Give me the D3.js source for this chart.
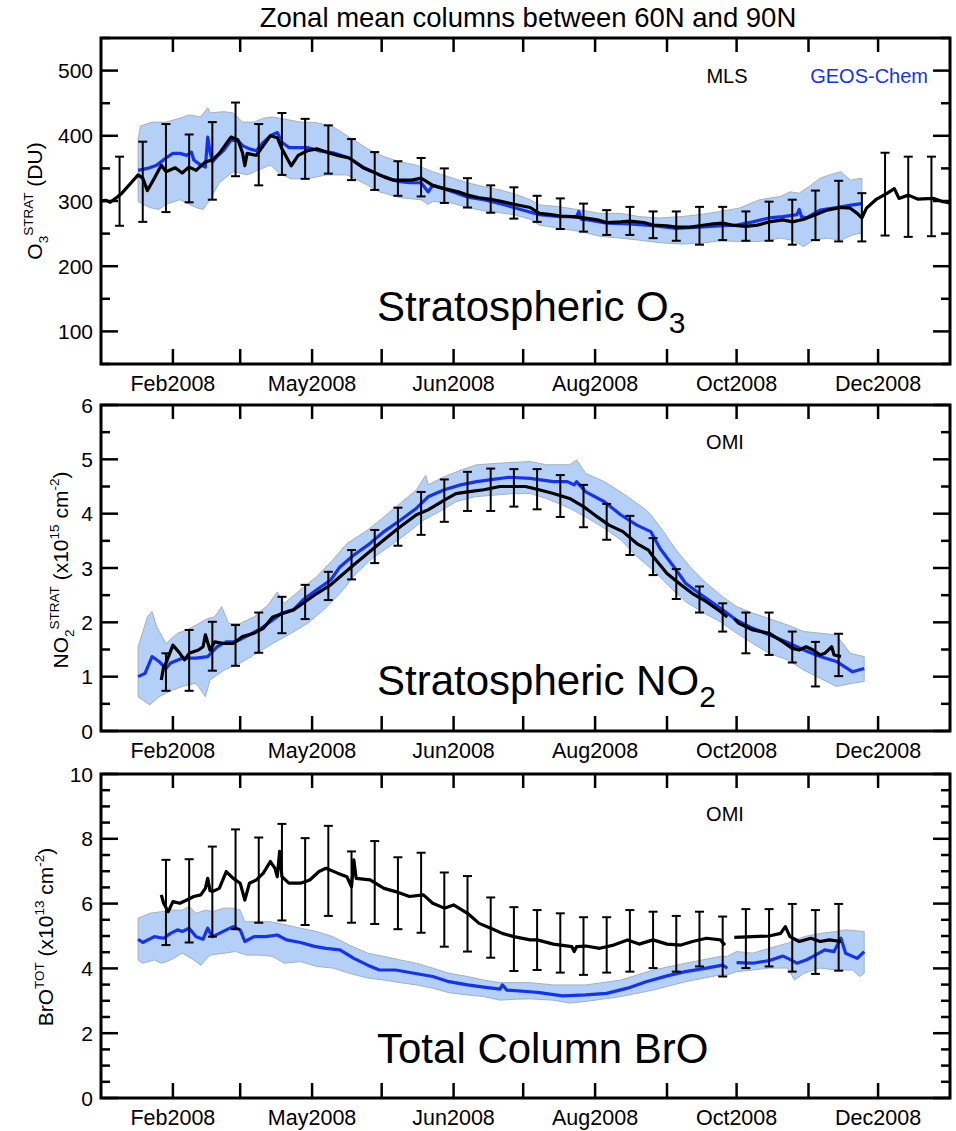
<!DOCTYPE html>
<html>
<head>
<meta charset="utf-8">
<script src="https://cdn.jsdelivr.net/npm/d3@7"></script>
<style>
  html, body { margin: 0; padding: 0; background: #fff; }
  svg { display: block; font-family: "Liberation Sans", Arial, Helvetica, sans-serif; }
</style>
</head>
<body>
<svg id="chart" width="956" height="1131"></svg>
<script>
// ---------------------------------------------------------------------------
// Data: day of year 2008 (0 = 1 Jan) and zonal-mean column values, 60N-90N
// ---------------------------------------------------------------------------

// x-axis labels (month index of the tick they sit under, and the text shown)
const xLabelMonths = [1, 3, 5, 7, 9, 11];
const xLabelText = ["Feb2008", "May2008", "Jun2008", "Aug2008", "Oct2008", "Dec2008"];

// --- Stratospheric O3 (DU) ---
const o3Mls = [[0,300],[2,301],[4,298],[7,306],[9,312],[13,328],[16,340],[18,335],[20,316],[23,335],[26,355],[28,345],[32,351],[35,343],[38,352],[41,347],[45,360],[48,363],[51,373],[56,398],[59,394],[61,374],[62,354],[63,373],[67,370],[70,385],[73,400],[76,397],[78,380],[82,354],[85,370],[89,377],[93,380],[98,374],[102,370],[107,366],[113,351],[117,345],[122,337],[126,332],[130,332],[134,332],[138,335],[143,324],[148,319],[154,314],[158,309],[163,305],[169,302],[173,299],[178,295],[185,290],[189,281],[194,279],[198,277],[203,276],[208,274],[214,271],[218,267],[224,268],[228,269],[234,267],[238,263],[244,262],[248,260],[254,260],[258,262],[264,265],[268,266],[272,263],[278,261],[283,263],[288,268],[294,271],[298,268],[303,272],[308,279],[313,286],[319,290],[323,289],[326,281],[328,274],[330,289],[334,302],[339,312],[342,319],[344,304],[348,309],[352,303],[359,304],[363,299],[366,297]];
const o3Geos = [[16,347],[20,350],[24,355],[28,366],[31,373],[34,373],[37,370],[39,375],[40,363],[43,355],[45,352],[46,398],[47,375],[48,360],[50,368],[53,378],[56,393],[59,393],[61,385],[64,380],[67,377],[70,390],[73,400],[76,405],[78,390],[81,382],[89,382],[94,377],[100,374],[107,366],[113,352],[120,340],[128,330],[133,328],[138,328],[141,314],[143,324],[150,316],[158,306],[165,302],[173,295],[181,287],[189,279],[198,276],[205,276],[206,284],[207,272],[210,271],[218,266],[228,265],[238,262],[248,258],[258,260],[268,262],[274,263],[281,268],[288,274],[294,276],[300,279],[301,287],[302,276],[304,274],[310,286],[317,290],[324,294],[328,296]];
const o3BandHi = [[16,395],[17,415],[22,421],[28,421],[34,427],[38,432],[43,429],[46,443],[47,435],[53,437],[57,435],[61,421],[66,421],[70,427],[74,429],[80,425],[86,421],[93,420],[100,414],[107,398],[115,380],[122,368],[129,360],[136,355],[143,345],[150,337],[158,328],[165,322],[172,317],[179,310],[185,302],[189,294],[198,291],[207,286],[215,281],[224,281],[232,276],[241,274],[250,276],[258,279],[267,284],[275,289],[284,302],[293,307],[297,314],[301,312],[306,324],[310,335],[314,340],[319,345],[323,332],[328,335]];
const o3BandLo = [[16,299],[21,290],[25,287],[28,295],[34,302],[38,295],[41,290],[44,287],[47,302],[51,328],[57,345],[63,340],[68,348],[73,355],[77,342],[82,334],[89,334],[97,340],[106,340],[113,328],[120,314],[129,305],[138,302],[141,295],[143,299],[150,298],[158,290],[165,285],[172,282],[178,279],[185,272],[189,263],[198,258],[207,253],[215,246],[224,243],[232,240],[241,236],[250,234],[258,235],[267,239],[275,238],[284,238],[293,243],[298,240],[303,230],[307,240],[313,243],[319,240],[324,248],[328,251]];
const o3Err = [[8,262,368],[18,268,391],[28,283,418],[38,298,402],[48,302,421],[58,338,451],[68,324,418],[78,340,435],[88,334,426],[98,342,416],[108,332,395],[118,317,375],[128,308,361],[138,307,366],[148,297,350],[158,290,335],[168,282,324],[178,273,321],[188,268,308],[198,257,304],[208,253,296],[218,248,286],[228,248,291],[238,243,284],[248,239,284],[258,233,291],[268,240,291],[278,239,284],[288,239,299],[298,233,302],[308,240,316],[318,238,331],[328,238,312],[338,247,374],[348,245,368],[358,246,368]];

// --- Stratospheric NO2 (x10^15 cm^-2) ---
const no2Omi = [[26,0.94],[27,1.18],[28,1.25],[31,1.58],[34,1.43],[36,1.31],[38,1.43],[42,1.49],[44,1.55],[45,1.77],[47,1.49],[49,1.64],[53,1.61],[57,1.61],[61,1.74],[66,1.80],[70,1.89],[74,2.10],[79,2.17],[83,2.23],[88,2.38],[93,2.53],[99,2.69],[103,2.84],[109,3.06],[115,3.27],[122,3.52],[129,3.76],[136,3.98],[141,4.07],[148,4.25],[153,4.37],[158,4.40],[165,4.44],[172,4.50],[179,4.50],[183,4.50],[188,4.45],[195,4.37],[202,4.28],[208,4.13],[214,3.94],[219,3.79],[225,3.67],[231,3.45],[236,3.33],[238,3.21],[244,2.90],[250,2.69],[255,2.53],[261,2.38],[267,2.20],[270,2.10],null,[273,2.07],[275,1.98],[281,1.86],[288,1.80],[294,1.64],[298,1.52],[301,1.49],[304,1.55],[307,1.49],[310,1.40],[312,1.43],[315,1.55],[316,1.40],[319,1.37]];
const no2Geos = [[16,1.00],[19,1.06],[22,1.37],[25,1.28],[28,1.15],[30,1.25],[35,1.34],[41,1.34],[46,1.37],[50,1.55],[54,1.64],[58,1.64],[64,1.77],[69,1.89],[73,2.01],[78,2.17],[83,2.23],[87,2.41],[93,2.60],[99,2.78],[103,3.02],[109,3.24],[115,3.42],[122,3.67],[129,3.88],[136,4.10],[141,4.31],[148,4.44],[155,4.53],[162,4.59],[169,4.63],[176,4.67],[185,4.65],[188,4.63],[195,4.59],[201,4.59],[204,4.53],[205,4.59],[209,4.40],[217,4.22],[224,3.98],[231,3.79],[237,3.67],[241,3.36],[247,3.02],[252,2.72],[258,2.53],[264,2.35],[269,2.20],[274,2.04],[281,1.89],[288,1.77],[296,1.63],[303,1.49],[310,1.37],[317,1.28],[324,1.09],[329,1.15]];
const no2BandHi = [[16,1.55],[20,2.10],[22,2.20],[24,1.92],[28,1.61],[33,1.80],[37,1.86],[41,1.95],[46,2.07],[49,2.10],[52,2.29],[55,1.98],[60,1.98],[66,2.10],[72,2.32],[76,2.56],[79,2.35],[86,2.60],[93,2.84],[100,3.15],[106,3.45],[115,3.70],[122,3.94],[129,4.19],[136,4.44],[140,4.71],[141,4.53],[148,4.68],[155,4.80],[162,4.90],[172,4.93],[185,4.96],[192,4.90],[202,4.90],[205,4.99],[209,4.74],[217,4.59],[224,4.40],[231,4.19],[235,4.07],[237,3.98],[242,3.70],[248,3.33],[254,3.02],[261,2.72],[268,2.47],[274,2.29],[281,2.17],[288,2.07],[296,1.95],[303,1.83],[310,1.80],[317,1.77],[323,1.43],[329,1.37]];
const no2BandLo = [[16,0.63],[21,0.48],[25,0.63],[29,0.72],[35,0.82],[41,0.88],[45,0.63],[47,0.94],[53,1.12],[60,1.25],[67,1.43],[74,1.61],[82,1.80],[89,1.98],[96,2.23],[103,2.53],[110,2.90],[117,3.18],[125,3.42],[132,3.64],[139,3.88],[146,4.04],[153,4.22],[161,4.31],[169,4.34],[178,4.37],[185,4.37],[192,4.28],[202,4.10],[209,3.94],[217,3.73],[224,3.52],[231,3.21],[238,2.96],[245,2.66],[252,2.38],[260,2.17],[267,2.01],[274,1.80],[281,1.61],[288,1.43],[296,1.31],[303,1.12],[310,0.97],[317,0.82],[324,0.88],[329,0.91]];
const no2Err = [[28,0.74,1.43],[38,0.74,1.86],[48,1.11,2.01],[58,1.20,1.95],[68,1.44,2.18],[78,1.80,2.47],[88,2.06,2.69],[98,2.41,2.93],[108,2.79,3.33],[118,3.09,3.70],[128,3.41,4.11],[138,3.61,4.40],[148,3.85,4.63],[158,4.05,4.77],[168,4.05,4.83],[178,4.13,4.82],[188,4.08,4.82],[198,3.94,4.71],[208,3.75,4.53],[218,3.52,4.18],[228,3.24,3.96],[238,2.87,3.55],[248,2.43,2.98],[258,2.18,2.66],[268,1.83,2.35],[278,1.43,2.18],[288,1.40,2.18],[298,1.26,1.83],[308,0.82,1.64],[318,1.01,1.79]];

// --- Total column BrO (x10^13 cm^-2) ---
const broOmi = [[26,6.27],[27,6.01],[29,5.75],[31,6.06],[34,6.01],[37,6.11],[40,6.22],[43,6.27],[45,6.47],[46,6.78],[47,6.40],[48,6.37],[51,6.47],[54,6.99],[57,6.78],[60,6.63],[62,6.11],[64,6.63],[67,6.73],[70,6.94],[73,7.30],[75,7.09],[76,6.83],[77,7.61],[78,6.83],[81,6.63],[86,6.63],[90,6.73],[94,6.99],[97,7.09],[102,6.94],[106,6.83],[108,6.52],[109,7.35],[110,6.78],[116,6.73],[122,6.47],[127,6.37],[133,6.22],[139,6.27],[143,6.01],[148,5.86],[152,5.96],[158,5.70],[163,5.39],[168,5.24],[173,5.08],[178,4.98],[185,4.88],[188,4.88],[195,4.75],[203,4.67],[204,4.52],[205,4.67],[209,4.69],[215,4.62],[221,4.72],[227,4.88],[232,4.75],[238,4.88],[244,4.75],[250,4.72],[255,4.83],[261,4.93],[267,4.88],[269,4.72],null,[273,4.96],[281,4.98],[288,5.00],[293,5.08],[295,5.29],[297,4.98],[301,4.83],[306,4.93],[310,4.83],[314,4.88],[319,4.83]];
const broGeos = [[16,4.90],[18,4.80],[23,4.98],[27,4.93],[30,5.08],[33,5.19],[35,5.14],[38,5.24],[41,4.98],[44,4.90],[46,5.24],[48,4.98],[51,5.08],[54,5.19],[57,5.29],[60,5.19],[62,4.83],[66,4.98],[71,4.98],[76,5.03],[80,4.88],[86,4.80],[92,4.68],[97,4.62],[103,4.57],[109,4.31],[115,4.10],[120,3.95],[127,3.95],[135,3.85],[143,3.75],[150,3.59],[158,3.49],[165,3.42],[172,3.36],[173,3.49],[175,3.33],[185,3.28],[189,3.25],[199,3.15],[209,3.18],[218,3.23],[227,3.39],[235,3.59],[244,3.77],[252,3.90],[261,4.01],[268,4.10],[270,4.01],null,[274,4.18],[281,4.16],[288,4.24],[294,4.38],[297,4.28],[300,4.16],[304,4.26],[307,4.37],[312,4.57],[316,4.52],[319,4.93],[321,4.47],[326,4.31],[329,4.52]];
const broBandHi = [[16,5.55],[21,5.70],[26,5.75],[30,5.80],[35,5.80],[38,5.91],[41,5.70],[45,5.80],[48,5.75],[53,5.86],[57,5.86],[60,5.80],[62,5.44],[67,5.44],[73,5.44],[80,5.34],[86,5.24],[93,5.14],[100,4.98],[107,4.72],[115,4.47],[122,4.37],[129,4.26],[136,4.16],[143,4.01],[150,3.85],[158,3.75],[165,3.64],[172,3.56],[179,3.56],[185,3.56],[195,3.49],[209,3.49],[224,3.64],[238,3.95],[252,4.16],[267,4.37],[270,4.37],[274,4.52],[281,4.47],[288,4.62],[296,4.78],[303,4.98],[310,5.08],[317,5.14],[321,5.19],[329,5.14]];
const broBandLo = [[16,4.26],[18,4.16],[23,4.26],[26,4.16],[30,4.26],[35,4.47],[40,4.26],[43,4.10],[47,4.41],[53,4.47],[58,4.52],[63,4.41],[69,4.41],[74,4.37],[79,4.16],[86,4.21],[93,4.06],[100,4.01],[107,3.85],[115,3.70],[122,3.64],[129,3.56],[136,3.49],[143,3.39],[150,3.25],[158,3.18],[165,3.13],[172,3.02],[179,3.05],[185,3.06],[195,3.02],[202,2.93],[209,2.98],[224,3.13],[238,3.33],[252,3.59],[267,3.80],[270,3.80],[274,3.90],[281,3.95],[288,4.01],[296,4.01],[299,3.64],[303,3.85],[310,4.01],[317,3.95],[324,3.95],[327,3.75],[329,3.85]];
const broErr = [[28,4.72,7.35],[38,4.80,7.37],[48,4.98,7.76],[58,5.21,8.29],[68,5.41,8.04],[78,5.48,8.46],[88,5.34,8.02],[98,5.62,8.40],[108,5.41,7.61],[118,5.37,7.93],[128,5.21,7.43],[138,5.10,7.57],[148,4.67,6.96],[158,4.52,6.85],[168,4.33,6.19],[178,3.92,5.89],[188,3.95,5.80],[198,3.87,5.70],[208,3.80,5.58],[218,3.87,5.58],[228,3.90,5.80],[238,4.01,5.75],[248,3.90,5.62],[258,4.06,5.75],[268,3.75,5.60],[278,4.01,5.83],[288,4.06,5.83],[298,3.90,5.99],[308,3.83,5.80],[318,3.93,5.99]];

// ---------------------------------------------------------------------------
// Drawing
// ---------------------------------------------------------------------------
const BLUE = "#1432f4";
const BAND = "#b4d0f7";
const BAND_EDGE = "#a2b0c3";
const FONT = "'Liberation Sans', Arial, Helvetica, sans-serif";

const svg = d3.select("#chart");
const X0 = 101, X1 = 950;
const yearStart = new Date(Date.UTC(2008, 0, 1));
const yearEnd = new Date(Date.UTC(2009, 0, 1));
const x = d3.scaleUtc().domain([yearStart, yearEnd]).range([X0, X1]);
const dayDate = d => new Date(Date.UTC(2008, 0, 1) + d * 864e5);
const monthTicks = d3.utcMonth.range(yearStart, yearEnd).slice(1);

// rich text helper: segments of {t, sub, sup} laid out with baseline shifts
function richText(sel, segs, size, subSize) {
  let shift = 0;
  segs.forEach(s => {
    const target = s.sub ? size * 0.28 : s.sup ? -size * 0.42 : 0;
    sel.append("tspan")
      .attr("dy", target - shift)
      .attr("font-size", (s.sub || s.sup) ? subSize : size)
      .text(s.t);
    shift = target;
  });
}

function panel(p) {
  const y = d3.scaleLinear().domain(p.domain).range([p.bottom, p.top]);
  const g = svg.append("g");
  const px = d => x(dayDate(d[0]));

  // model variability band
  const ring = p.bandHi.concat(p.bandLo.slice().reverse());
  g.append("path")
    .attr("d", d3.line().x(px).y(d => y(d[1]))(ring) + "Z")
    .attr("fill", BAND)
    .attr("stroke", BAND_EDGE)
    .attr("stroke-width", 1);

  const line = d3.line().defined(d => d != null).x(px).y(d => y(d[1]));

  // GEOS-Chem
  g.append("path").attr("d", line(p.model))
    .attr("fill", "none").attr("stroke", BLUE).attr("stroke-width", 3.2)
    .attr("stroke-linejoin", "round");

  // observations
  g.append("path").attr("d", line(p.obs))
    .attr("fill", "none").attr("stroke", "#000").attr("stroke-width", 3.2)
    .attr("stroke-linejoin", "round");

  // observation error bars
  const eb = g.append("g").attr("stroke", "#000").attr("stroke-width", 2);
  p.err.forEach(e => {
    const cx = x(dayDate(e[0]));
    const y0 = y(e[1]), y1 = y(e[2]);
    eb.append("line").attr("x1", cx).attr("x2", cx).attr("y1", y0).attr("y2", y1);
    eb.append("line").attr("x1", cx - 4.5).attr("x2", cx + 4.5).attr("y1", y0).attr("y2", y0);
    eb.append("line").attr("x1", cx - 4.5).attr("x2", cx + 4.5).attr("y1", y1).attr("y2", y1);
  });

  // axes frame
  const ax = svg.append("g").attr("stroke", "#000");
  ax.append("rect")
    .attr("x", X0).attr("y", p.top)
    .attr("width", X1 - X0).attr("height", p.bottom - p.top)
    .attr("fill", "none").attr("stroke-width", 3);

  // y ticks (inward on both sides)
  const [lo, hi] = p.domain;
  const minor = d3.range(lo, hi + 1e-9, p.minorStep);
  minor.forEach(v => {
    const isMajor = Math.abs(v / p.majorStep - Math.round(v / p.majorStep)) < 1e-6;
    const len = isMajor ? 17 : 9;
    const yy = y(v);
    ax.append("line").attr("x1", X0).attr("x2", X0 + len).attr("y1", yy).attr("y2", yy).attr("stroke-width", 2.5);
    ax.append("line").attr("x1", X1).attr("x2", X1 - len).attr("y1", yy).attr("y2", yy).attr("stroke-width", 2.5);
    if (isMajor && p.labelFilter(v)) {
      svg.append("text")
        .attr("x", X0 - 8).attr("y", yy + 7.5)
        .attr("text-anchor", "end")
        .attr("font-size", 21).attr("font-family", FONT)
        .text(v);
    }
  });

  // x ticks at each month start
  monthTicks.forEach(m => {
    const xx = x(m);
    ax.append("line").attr("x1", xx).attr("x2", xx).attr("y1", p.bottom).attr("y2", p.bottom - 15).attr("stroke-width", 2.5);
    ax.append("line").attr("x1", xx).attr("x2", xx).attr("y1", p.top).attr("y2", p.top + 14).attr("stroke-width", 2.5);
  });
  xLabelMonths.forEach((mi, i) => {
    svg.append("text")
      .attr("x", x(new Date(Date.UTC(2008, mi, 1))))
      .attr("y", p.bottom + 27)
      .attr("text-anchor", "middle")
      .attr("font-size", 21.5).attr("font-family", FONT)
      .text(xLabelText[i]);
  });

  // y-axis title (rotated)
  const yt = svg.append("text")
    .attr("transform", `translate(${p.yTitleX},${(p.top + p.bottom) / 2 + p.yTitleDy}) rotate(-90)`)
    .attr("text-anchor", "middle")
    .attr("font-family", FONT);
  richText(yt, p.yTitle, 21, 13.5);

  // big panel caption
  const cap = svg.append("text")
    .attr("x", 377).attr("y", p.captionY)
    .attr("font-family", FONT);
  richText(cap, p.caption, 42, 30);

  // instrument labels
  p.legend.forEach(l => {
    svg.append("text")
      .attr("x", l.x).attr("y", p.top + l.dy)
      .attr("text-anchor", l.anchor)
      .attr("font-size", 20).attr("font-family", FONT)
      .attr("fill", l.color)
      .text(l.t);
  });
}

// chart title
svg.append("text")
  .attr("x", 528).attr("y", 27)
  .attr("text-anchor", "middle")
  .attr("font-size", 27.5).attr("font-family", FONT)
  .text("Zonal mean columns between 60N and 90N");

panel({
  top: 38, bottom: 364, domain: [50, 550], majorStep: 100, minorStep: 50,
  labelFilter: v => v >= 100 && v <= 500,
  obs: o3Mls, model: o3Geos, bandHi: o3BandHi, bandLo: o3BandLo, err: o3Err,
  yTitleX: 42, yTitleDy: 0,
  yTitle: [{t: "O"}, {t: "3", sub: true}, {t: "STRAT", sup: true}, {t: " (DU)"}],
  caption: [{t: "Stratospheric O"}, {t: "3", sub: true}], captionY: 321,
  legend: [
    {t: "MLS", x: 727, dy: 45, anchor: "middle", color: "#000"},
    {t: "GEOS-Chem", x: 928, dy: 45, anchor: "end", color: BLUE}
  ]
});

panel({
  top: 405, bottom: 731, domain: [0, 6], majorStep: 1, minorStep: 0.5,
  labelFilter: () => true,
  obs: no2Omi, model: no2Geos, bandHi: no2BandHi, bandLo: no2BandLo, err: no2Err,
  yTitleX: 68, yTitleDy: 2,
  yTitle: [{t: "NO"}, {t: "2", sub: true}, {t: "STRAT", sup: true}, {t: " (x10"}, {t: "15", sup: true}, {t: " cm"}, {t: "-2", sup: true}, {t: ")"}],
  caption: [{t: "Stratospheric NO"}, {t: "2", sub: true}], captionY: 695,
  legend: [{t: "OMI", x: 725, dy: 44, anchor: "middle", color: "#000"}]
});

panel({
  top: 774, bottom: 1098, domain: [0, 10], majorStep: 2, minorStep: 0.5,
  labelFilter: () => true,
  obs: broOmi, model: broGeos, bandHi: broBandHi, bandLo: broBandLo, err: broErr,
  yTitleX: 53, yTitleDy: 1,
  yTitle: [{t: "BrO"}, {t: "TOT", sup: true}, {t: " (x10"}, {t: "13", sup: true}, {t: " cm"}, {t: "-2", sup: true}, {t: ")"}],
  caption: [{t: "Total Column BrO"}], captionY: 1063,
  legend: [{t: "OMI", x: 725, dy: 47, anchor: "middle", color: "#000"}]
});
</script>
</body>
</html>
